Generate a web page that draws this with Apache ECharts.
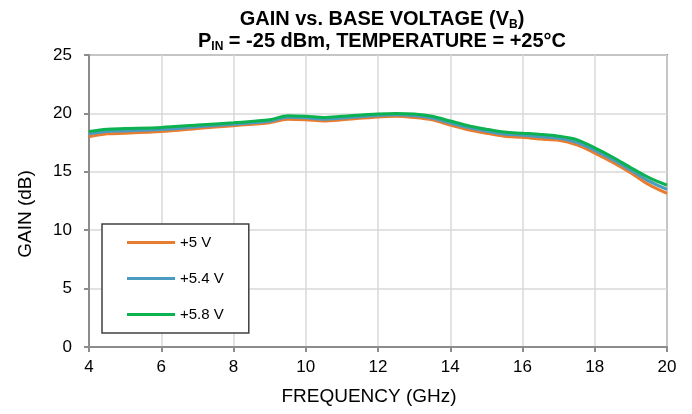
<!DOCTYPE html>
<html><head><meta charset="utf-8">
<script src="https://cdn.jsdelivr.net/npm/echarts@6/dist/echarts.min.js"></script>
<style>html,body{margin:0;padding:0;background:#fff}#c{width:692px;height:414px}</style>
</head><body><div id="c"></div>
<script>
const freqs = [4, 4.5, 5, 6, 7, 8, 9, 9.5, 10, 10.5, 11, 12, 12.5, 13, 13.5, 14, 14.5, 15, 15.5, 16, 16.5, 17, 17.5, 18, 18.5, 19, 19.5, 20];
const gain5V = [18.0, 18.25, 18.3, 18.45, 18.7, 18.95, 19.2, 19.5, 19.45, 19.35, 19.45, 19.7, 19.75, 19.65, 19.45, 19.0, 18.6, 18.3, 18.05, 17.95, 17.8, 17.7, 17.3, 16.6, 15.8, 14.9, 13.9, 13.15];
const gain54V = [18.25, 18.45, 18.5, 18.62, 18.85, 19.08, 19.33, 19.67, 19.62, 19.5, 19.6, 19.83, 19.88, 19.8, 19.6, 19.18, 18.78, 18.48, 18.23, 18.13, 18.0, 17.88, 17.53, 16.83, 16.03, 15.13, 14.2, 13.5];
const gain58V = [18.45, 18.65, 18.7, 18.8, 19.0, 19.2, 19.45, 19.8, 19.75, 19.65, 19.75, 19.95, 20.0, 19.95, 19.75, 19.35, 18.95, 18.65, 18.4, 18.3, 18.2, 18.05, 17.75, 17.05, 16.25, 15.35, 14.5, 13.85];
const seriesNames = ['+5 V', '+5.4 V', '+5.8 V'];
const xTicks = [4, 6, 8, 10, 12, 14, 16, 18, 20];
const yTicks = [0, 5, 10, 15, 20, 25];

const colors = ['#E87D2F', '#4A9BC0', '#0BB24F'];
const pair = arr => freqs.map((f, i) => [f, arr[i]]);
const FONT = 'Liberation Sans, Arial, sans-serif';

const chart = echarts.init(document.getElementById('c'), null, {renderer: 'canvas'});
chart.setOption({
  animation: false,
  backgroundColor: '#fff',
  title: {
    left: 377, textAlign: 'center', top: 3,
    text: '{t|GAIN vs. BASE VOLTAGE (V}{s|B}{t|)}\n{t|P}{s|IN}{t| = -25 dBm, TEMPERATURE = +25°C}',
    textStyle: {
      fontFamily: FONT,
      rich: {
        t: {fontSize: 20, fontWeight: 'bold', color: '#000', fontFamily: FONT, lineHeight: 22},
        s: {fontSize: 12, fontWeight: 'bold', color: '#000', fontFamily: FONT, lineHeight: 22, padding: [11, 0, 0, 0]}
      }
    }
  },
  legend: {
    orient: 'vertical', left: 102, top: 224,
    data: seriesNames,
    icon: 'rect', itemWidth: 48, itemHeight: 3, itemGap: 21,
    padding: [11, 25, 11, 25],
    backgroundColor: '#fff', borderColor: '#404040', borderWidth: 1.5,
    textStyle: {fontFamily: FONT, fontSize: 15, color: '#000'}
  },
  grid: {
    left: 89, right: 25, top: 55, bottom: 67,
    show: true, borderColor: '#8c8c8c', borderWidth: 2, backgroundColor: '#fff'
  },
  xAxis: {
    type: 'value', min: xTicks[0], max: xTicks[xTicks.length - 1], interval: 2,
    name: 'FREQUENCY (GHz)', nameLocation: 'middle', nameGap: 40,
    nameTextStyle: {fontFamily: FONT, fontSize: 19, color: '#000', padding: [0, 18, 0, 0]},
    axisLine: {show: true, lineStyle: {color: '#8c8c8c', width: 2}},
    axisTick: {show: true, length: 5, lineStyle: {color: '#8c8c8c', width: 2}},
    axisLabel: {fontFamily: FONT, fontSize: 17, color: '#000', margin: 12},
    splitLine: {show: true, lineStyle: {color: '#d9d9d9', width: 1.5}}
  },
  yAxis: {
    type: 'value', min: yTicks[0], max: yTicks[yTicks.length - 1], interval: 5,
    name: 'GAIN (dB)', nameLocation: 'middle', nameGap: 54, nameRotate: 90,
    nameTextStyle: {fontFamily: FONT, fontSize: 19, color: '#000', padding: [0, 26, 0, 0]},
    axisLine: {show: true, lineStyle: {color: '#8c8c8c', width: 2}},
    axisTick: {show: true, length: 5, lineStyle: {color: '#8c8c8c', width: 2}},
    axisLabel: {fontFamily: FONT, fontSize: 17, color: '#000', margin: 17},
    splitLine: {show: true, lineStyle: {color: '#d9d9d9', width: 1.5}}
  },
  series: [gain5V, gain54V, gain58V].map((arr, i) => ({
    name: seriesNames[i], type: 'line', data: pair(arr),
    smooth: 0.3, showSymbol: false, symbol: 'none',
    lineStyle: {color: colors[i], width: 3},
    itemStyle: {color: colors[i]},
    z: 2 + i
  }))
});
</script></body></html>
